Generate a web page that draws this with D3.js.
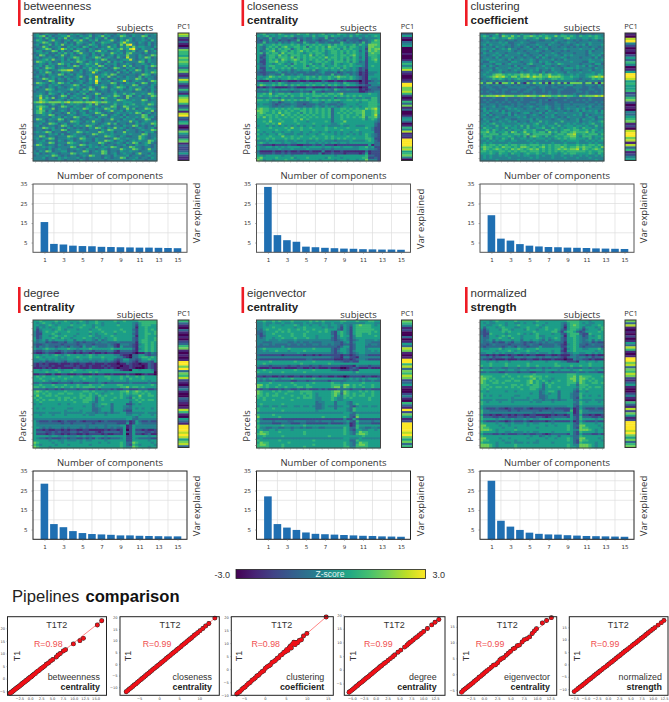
<!DOCTYPE html>
<html><head><meta charset="utf-8">
<script src="https://cdn.jsdelivr.net/npm/d3@7"></script>
<style>
html,body{margin:0;padding:0;background:#fff}
svg{display:block}
text{font-family:"Liberation Sans",Arial,sans-serif}
.os{font-family:"Open Sans",sans-serif}
</style></head><body><svg id="c" width="669" height="702"></svg>
<script>
const titles1=["betweenness","closeness","clustering","degree","eigenvector","normalized"];
const titles2=["centrality","centrality","coefficient","centrality","centrality","strength"];
const barCategories=[1,2,3,4,5,6,7,8,9,10,11,12,13,14,15];
const barBetweenness=[15.5,4.3,4.0,3.4,3.2,3.1,2.8,2.7,2.6,2.5,2.4,2.4,2.3,2.2,2.1];
const barCloseness=[33.5,8.8,6.2,5.4,2.9,2.6,2.3,2.1,1.9,1.8,1.6,1.5,1.4,1.4,1.3];
const barClustering=[19,7,6,4.2,3.4,3,2.7,2.6,2.4,2.3,2.2,2,1.9,1.8,1.7];
const barDegree=[28.5,7.8,6.2,4.2,3.2,2.7,2.5,2.3,2.0,2.0,1.8,1.7,1.6,1.5,1.5];
const barEigenvector=[22,7.8,6,4.8,3.5,2.8,2.6,2.4,2.2,2,1.8,1.7,1.5,1.4,1.3];
const barNormalized=[30,9.5,6.5,4.8,3.4,2.8,2.5,2.4,2.1,1.9,1.7,1.6,1.5,1.4,1.3];
const barTicksY=[5,15,25,35];
const barTicksX=[1,3,5,7,9,11,13,15];
const barGridY=[10,20,25,30];
const barGridX=[2,4,6,8,10,12,14];
const pc1Betweenness="8721310276657676536721386312631578862361893256102753267132235211";
const pc1Closeness="3510345000100146468210012997786201637130014530164812199997856740";
const pc1Clustering="108942010253640159985655623672010435671208997818361245";
const pc1Degree="63103101023671010199793768210241003210186105319998985783";
const pc1Eigenvector="76412003015387101996837687235100241063192751299998975736";
const pc1Normalized="7381010201538610199783768721351002410631827512999989757367";
const heatBetweenness=[
"4534544354 4354543453 4435443545 3454435445","4567353445 5744354463 4574534476 4354476344","3453645354 7354435643 5436344354 4534453544","4654357443 4536574354 6344574354 7534454364","3457643543 5343654435 3465543468 5443543534",
"4534463547 4453543465 4354345374 8943443534","3447534453 3545436534 5344745354 6474554435","4345763458 6453554354 3454564574 5894354453","4553447635 3436744354 6745344543 5463447345","3454534354 6453574435 3454475453 6744435344",
"4376343547 4354345435 4363453544 7443543476","4534454345 3457645345 7634543643 8443547634","3445647445 3534645443 5476344345 5843453544","4765453435 4454764354 5443635453 4444763544","3454354476 4534354654 7435445344 5434454354",
"4453645344 3547634545 4763435347 4634435476","4534765345 4453435464 5345347643 5453435343","3454534467 7884353465 7543435345 3547635445","4354763435 4534453448 5345443634 5354435476","3445354476 3453543454 3456476344 3443476534",
"4534345443 5434574354 8454743543 5443635443","3447645354 3544534364 7534345344 5447643543","3443476344 3453454354 9544534458 4345443476","4765435476 4534453454 8344476343 5453476345","3454354543 4457635443 5454345354 4476344354",
"4534354354 3454543464 3476345765 3544543453","4344765344 4574536476 3454354453 4547634354","3444354454 4344354534 4344345344 4434444353","4454365435 3534546344 7634446446 4564454764","4574534347 6345443543 5344547643 7634534476",
"4484647345 4354547643 5476445343 7444434354","4476543454 3534453534 5435444765 4454476344","6787677776 7867776778 7677545445 5544454454","4454346435 3454543463 7434446445 4564454764","4676534347 6435443554 4354476347 6445445443",
"4585447344 4354547643 5447645344 7463447654","4676354345 4354354354 5434574453 5445454473","4675453443 4745345344 7643434544 4547634534","3445476344 3454345543 4476345435 3444476344","3444435453 5447643454 3544354453 5445476453",
"4764354476 3434534344 5434474435 4453447633","3445344354 3476543547 4434443544 4745345445","4453476534 5344534445 4345746344 3435454476","4534344347 6435454764 3454434435 4476343435","3447645344 3543434354 7643547454 3434543453",
"3443435447 6344544344 4354764443 5443454476","4545763443 3544764544 4764453447 4443435453","3444354535 3345443447 6445454445 4544476344","4476344344 4765445344 3447654354 3344754344","4534576344 4543476443 5443347644 5444754345",
"3445344354 3453445443 5447653454 3454544764","3454476344 4765434344 4764344543 5476345743","4764344354 3454476454 4353443445 3435445434","3445454344 4476344354 5445476434 4764434434","3444353454 4344543544 3454344475 4476434744",
"4354763445 5343447634 5476344354 4544344543","4534345434 4476454434 4476345345 4435744354","3444547643 4344345476 4434435444 5344434544","4445344354 5444534344 4435434476 3445344354","4444344454 3444354344 4443444444 4454443444"];
const heatCloseness=[
"4564554654 4546556454 5645546554 5465445555","5456454556 5644455464 5564655454 6454454565","3433634533 4324343354 3363343433 4335344445","3243534233 2336243343 2334534324 3332334576","3363443534 3543364335 3343333643 4343634666",
"5645565655 5656456565 6556465655 5646547776","5435656467 5566563656 5647665564 6654537766","5436564656 6356566556 5656656465 6554527677","5345674566 4656756566 5645665656 5653537676","5636566475 6656545656 6545665646 5654526766",
"5325665756 4666565746 5645565665 6754526665","5235664666 5746565665 6575665656 4653525665","5325656476 5676465656 5646565646 5654525675","5225667565 4565665456 6565466656 4653425565","4325545654 5365565645 4655465455 6544425555",
"5335665556 4655563565 5645565565 6555425655","5225465565 6465566556 5565656465 4542325555","4325556454 5345455463 4554554645 4542315555","3223334533 4343334333 4533342343 3431214445","3323443363 3434533334 3433634345 3431214455",
"5545765655 6556556564 6556567665 6543215555","5456555455 6565456555 6556546555 6543215445","2111312122 1112112111 1321121121 1110212344","4544454654 3444544545 5454454365 4431214445","5765565656 4656556565 5646565456 5543322444",
"1212321111 2321112211 1121221121 1110114332","4454545455 4544545545 5454365445 4441212333","3333534333 3233433263 3233343333 3331123344","5565745665 6555656565 5656656745 5555556554","5655656556 4655655566 6565565656 5656555554",
"4444544354 4544446545 4444534445 4544544664","6656566575 6565656566 5656566556 6565665664","5555434234 4543333455 4355443455 5554556664","4544432343 3443323334 3443334345 5545556665","5555433434 4543343345 4354543455 4554556664",
"6766556565 6566565656 5656355665 6565576785","7766565656 5655665656 5656355656 5666755675","6765565756 6556465656 5656356565 6566755675","6656656575 6565656565 5656355656 5565755684","6575656556 5656565656 5656355656 5656746674",
"5555655655 5565756555 5555355655 5555645653","5565755565 5565554555 5565355575 5555555543","5556565855 5556555565 5555445655 5555555532","4554545454 5454545545 5454444544 5544455532","5555655556 5755655655 5565565556 5555565422",
"6555556555 6555655565 5565555655 5565555422","5545545545 5455455455 4554545455 4554555522","6454554654 4454454554 5655545454 5454565432","5555655575 5655655565 5565655556 5555565432","6556565556 5656555656 5565656565 5655566522",
"4445454445 4454454445 4544434444 5444456532","5654555545 5445554554 5454554554 5555555533","4322212222 3221122232 2422212222 2222225133","5445545454 5555454555 5455455455 5445564522","5444444544 4544445444 4344344444 4445554432",
"3111121121 2112111211 1411211211 1111131222","4222232232 3222232222 4122322212 2221251222","5545555545 5455555555 5555545555 5555563322","6755556555 5645556555 5546555455 5555662232","7645545556 5554555555 4555545554 5545574442"];
const heatClustering=[
"4434463544 4435443434 5444435444 4343443444","5653553765 7564667656 5655756656 5465565654","4545654557 6544654564 5764454675 5445545655","3443434434 4344434443 3443544344 3434434434","4454445453 3445443344 4445434454 4344454444",
"4535444544 3454434454 4354443443 4545354445","3444354434 3443453435 4434434434 3434434434","4544534546 4434445344 4534444544 4454445344","4435344445 4344344454 3443443434 4444353444","3544454434 4454434443 4445434444 3444354445",
"4434545354 4443543445 3544543545 4444345453","3444353444 5344344353 5434445434 4434443534","4454445435 3445445434 4445343544 4444454445","4335544443 5543445435 4543544445 4443355444","3444355345 4444356444 3554465444 4434443553",
"4535434444 3534443344 5443434434 4545354344","4444354445 4453544454 4545443555 4544443544","3445345443 4544345453 4435443444 3434453445","4454445344 4435445443 5344544354 4454445445","4544677656 5667675657 5675565445 4544555465",
"4456787865 7757786877 6687776556 5544567878","3444656545 4565456656 5456656555 4434446565","4434434434 3444433444 3434344444 4344344434","7377271775 7273174757 2717472727 7773772717","3443444344 3434443344 4434344455 3443444353",
"4344334334 4444434434 4334433433 4443343344","3334433443 3343344333 4333344333 3433344334","4343343433 4433443433 4343343333 3443433434","3334333433 3334333433 3343343333 4333433334","7677787877 7677787767 8776676766 5476777878",
"3333433343 3334333433 3343433343 3333343333","3434333343 3434333334 3423333433 3434343333","3343343434 3343334434 3333433334 3333433434","4434434333 4344343344 3433443443 4444344343","3444534454 4343445434 4543443444 4344453444",
"4534444345 4544344354 4543453454 4545344443","3545453534 4454444434 4354344343 4535454535","4453444545 3434553445 3544544544 4453444545","4535344435 3544434543 4445344444 5453534444","4443454344 4454534444 3545434354 4443454355",
"3544534454 3344445354 4443454434 4535445344","4453445445 4534435446 4544446444 4534454456","4545644544 4454544564 4544644454 5445456445","5454464555 4546464554 5455464555 4554544645","4655454464 5545464455 6446545455 6546554544",
"5564654545 4554655644 4654545665 6655646545","6675645564 7645755656 6475646656 7666756455","5656664665 5665674666 6664566577 8556566646","4666455556 5454636765 4645655667 7546664555","5546454654 6445545455 5454565656 6555464546",
"4454545544 5544454544 4544445455 5544545455","4545444445 4444445454 4445444544 4544454544","5656656565 6656656665 6565665655 5656566565","6766565766 5657765656 7565667656 6767665657","5765676565 7676567675 6565676767 7857656765",
"6656556656 5656656665 6565656566 6666565566","5556546554 6554565565 4565545656 6555565465","4545445454 4454554454 5445445445 4454544545","4545444445 4444445454 4445444544 4544454444","4444454444 4454444444 4444444444 4444444544"];
const heatDegree=[
"5565555655 6555565455 6555556556 5555666666","5456554545 5545455455 6545555455 5543566666","5544565455 5565556554 5545555655 5542566655","5354545565 5445565554 6555555555 5541556555","5245554565 4555455545 5655555565 5532556565",
"4235655655 5655555565 5565556556 5542556556","4225556545 5555455545 4556554555 5532556656","4235545655 6554555565 4455565555 5541556555","5235556546 5545556554 5454556555 5532556556","5345354555 4553554554 3534556555 5532566556",
"4344232233 2443232333 4344333433 3331566565","3223433332 3333234332 3333432144 4321456565","4243433234 3243325335 4333442153 3321556565","5445655455 5655455565 5555565555 5531456565","3223433323 4332324332 3333442133 3321556565",
"2112322112 3221212212 1121221122 2210113243","5545545654 5655554565 4555554421 1033553233","5654555545 4555655565 5565555442 1033566565","4455454544 4554454454 4454553235 5332355655","4434233443 2444344434 3443432134 4321344325",
"2121211121 1121122112 1112111011 3211011321","2122212111 2221212121 1121211101 1211101321","1112121121 1112211121 1112121011 1210001321","5545545654 5556554555 5455554421 1055455541","5555655565 5565555565 6555555555 5555555550",
"1122113112 2111221112 1221121111 2110012110","5656555565 5565565565 5556655565 6556565555","5565556555 6555556555 4555655565 4655565555","5556545545 5445545555 4555545555 4555555455","3343332233 3323332233 3432333333 3433333433",
"5565556555 6555655565 5565555665 5555555565","6656555656 5565656666 5655555566 7566565555","3333233232 3333233322 3233323223 3222333223","6765655555 6555556656 5554555566 7567656555","6656565566 5665565565 6545565565 6566565655",
"5755665655 5555566565 4656555565 5455755665","6565555565 6656565665 3565556565 4365655555","5656566565 6565556665 3565565555 5456565665","5565555555 5556556654 3555555555 5355655555","4545555545 5455555553 4566535555 2245455555",
"5555555555 5555554553 4545535554 4355555555","5454554555 5445555553 3455535554 3354545545","5555555555 4555545553 3455535553 2255555555","4444544445 4444445444 3443434455 3344445444","5545554555 4555554544 5554555555 4455455545",
"5555555555 5555555555 5555555555 5543555555","4444444444 4444444444 4444444444 5533444444","5322232212 3222321222 2123222222 3125322322","5433333332 3323333332 3333333222 5125433333","5444444444 4444444344 4443444455 1254444444",
"5543434443 4344434344 3443434335 1254444444","5221211221 2122112211 1112122125 0252212112","5333223232 2233232233 2123333325 2253332232","5222123221 2122112122 2212112225 0252212311","5555545544 5444545445 5554555555 2255555455",
"5433232223 3233223232 4323233345 2254333322","5555545544 5444545445 5554555555 2255555455","7655554554 5555545555 5455455565 3376555545","6545555455 5455555545 5555555565 3265455554","7655545555 5555555555 5555555565 4476555455"];
const heatEigenvector=[
"5565565655 5655555656 5655555665 5565556655","4454454454 4544454544 4544544544 4444455544","4454555545 5565455455 4554554354 3567666545","4455565555 5545565555 5454454254 2566666555","4356555655 6556565565 5565553254 2566666655",
"3345556565 6555556555 6565325654 2566666565","3245565555 5655565555 5555325654 2566556555","4235555655 5655565554 5555424655 2466555565","4345545565 5565556554 5555324554 2455555555","4445444544 4454444444 4444323454 2345544454",
"4433344444 3343433433 3444433245 2455544333","4344343333 4334343344 3443433233 2355543443","3333333353 3333333333 3333332355 2355533333","4565555555 6555555565 5555323554 2355545555","4454556555 4555565555 5555324554 2455544545",
"4444444444 4445444444 4444323454 2345544444","3222222212 2222212212 1222222122 1234432222","4444444444 4444444444 4444322144 2214444444","3222222222 2222223322 2222211122 1234432222","5555655555 5565555565 5555544322 3225555555",
"5565555555 5555655555 5556555555 5555555555","4333233333 2332333233 2333333222 2143332333","2111211121 1112211212 1112111001 2321112111","5565555555 5565555565 5555443222 3225555555","6555655565 5555565555 5555555555 5465555555",
"4444444444 4444444444 4444444444 4444444444","2212211212 1122121122 1221121101 2222122112","5454555455 5655555565 5555555544 5454545554","4343343333 3223332333 3332333334 4443433433","5555655555 5655555565 5555655455 5555655555",
"7756555655 5565556555 5555666577 5656555655","7656556556 5556656655 5555677476 5655655655","3233222323 3223223222 3232223333 2333233222","7655565655 6655666655 5555677476 5556565655","7656556556 5555656654 5555676376 5655655655",
"6656566555 5655565654 5555675466 5656655655","6565555565 5556566654 4555654465 6555556555","5565565555 5655555554 4555654455 5555556555","5555555555 5555555553 4455535554 3555555555","5655555565 5555555553 3455535554 3565555555",
"4544544544 5544544543 3454434455 3245445445","6555565555 5555555553 3455535554 3655555555","6555555565 5555555554 5555555554 3655555555","4444444444 4444444444 4444444455 4344444444","6555565555 5555555555 5555555555 3365555555",
"7555555655 5555555555 5655555565 3275555555","5322222222 2222222222 2222222242 2532222222","6444434444 3344443334 3444344445 3264444344","5333322233 3222332222 2223222234 1253333222","6555555565 5555565555 5555555555 1265555555",
"6443344334 4344343344 3344444465 3364433443","5544554555 5455555555 5555555565 3255445545","5766555655 5555565555 5555555565 4357665555","6776555555 5555565555 5555555565 4367765555","5565555565 5555555555 5556555555 5555655555",
"4544444444 4444444444 4444444455 4445444444","6555555655 5555555565 5555555555 3365555555","5766555555 6555555555 5555555565 4357665555","6776555565 5555555565 5555555565 4367765555","6666555565 5555565555 5555555566 4466665555"];
const heatNormalized=[
"5554565555 5655555565 5555555566 6655545555","5454455545 5445455455 5455554356 6654544555","5544556545 5565555565 4555554256 7655445565","5355545655 5445565554 5655554156 6653555456","4245554665 4555465545 5655653256 6542455546",
"3235555656 5555555655 5556642566 5323555565","3226555545 5565454565 5554553256 6632265555","4235545656 5554555564 4555554156 6542354565","4335556554 6554555565 4545653255 6543355565","4345354555 4553554554 3534553255 6543453545",
"4334232243 2443232343 4344333155 6543342322","3323433332 3333234332 3333432145 6533234333","3233333234 3243323335 3333442255 6532333332","5445556455 5565455565 5555553145 6554455564","5555545556 5455565545 5554552155 6555555455",
"4455454544 4554454454 4454553234 5544554545","2212121121 2211212211 1221121113 4322121211","4434233443 2444344434 3443432134 4344342334","3221211121 1121122112 1112111011 4332212111","5545545554 5555554555 5455554422 2155455455",
"5556555565 5555565555 5555655555 5555565555","6556555565 5565565565 5555665556 5565565555","3443444334 4434443344 3434443434 3334434443","6555545545 5445545555 4555545554 5565555455","3343332233 3323332233 3432333333 3433433322",
"5555555565 5555555655 5555555566 6555555555","7666555656 5565667666 5655555566 7576665556","7765655555 6555556756 5554555567 7577656555","7656565566 5665567565 6545565566 7576565655","7655665655 5555567565 4656555566 6476556656",
"6665555555 6656565665 3565555565 5366655555","6656566565 6565556665 3565565555 5466565665","6565555555 5556556654 3555555555 4365655555","5545555545 5455555553 4566535555 3255455555","6555555555 5555554553 4545535554 3365555555",
"6454554555 5445555553 3455535554 3364545545","6555555555 4555545553 3455535554 3265555555","5444544445 4444445444 3443434455 3354445444","6545554555 4555554544 5554555555 4365455545","6555555555 5555555555 5555555555 3365555555",
"5444444444 4444444444 4444444455 3254444444","5322232212 3222321222 2123222224 1253222322","6443333332 3323333332 3333333226 1264433333","6444444444 4444444344 4443444455 1264444444","5221211221 2122112211 1112122125 2252212112",
"6333223232 2233232233 2123333325 3263332232","6555545544 5444545445 5554555555 3265555455","5322232212 3222321222 2123222224 1253222322","6555545544 5444545445 5554555555 3265555455","7755554554 5555545555 5455455565 3377555545",
"7665555455 5455555545 5555555565 3276655554","7776545555 5655555555 5555555565 4477765455","6555545544 5444545445 5554555555 3265555455","5333223232 2233232233 2123333325 3253332232","6555555555 5555554553 4545535554 3365555555",
"7755554554 5555545555 5455455565 3377555545","7665555455 5455555545 5555555565 3276655554","6555545544 5444545445 5554555555 3265555455","7776545555 5655555555 5555555565 4477765455","7776545555 5655555555 5555555565 5477765455"];
const scatterX1=[-4.6,-4.4,-4.2,-4,-3.8,-3.6,-3.4,-3.2,-3,-2.8,-2.6,-2.4,-2.2,-2,-1.8,-1.6,-1.4,-1.2,-1,-.8,-.6,-.4,-.2,0,.2,.4,.6,.9,1.2,1.5,1.8,2.1,2.4,2.7,3,3.3,3.7,4.2,4.7,5.2,6,6.4,6.9,7.6,8.1,9.9,11.4,12.2,15.4,16.4];
const scatterY1=[-5.8,-5.5,-5.3,-5,-4.7,-4.5,-4.1,-3.9,-3.6,-3.4,-3.1,-2.9,-2.5,-2.3,-1.9,-1.7,-1.4,-1.2,-.8,-.6,-.4,0,.2,.6,.7,1,1.4,1.8,2.1,2.7,3,3.3,3.9,4.2,4.6,5,5.7,6.2,7,7.6,8.6,9.4,10,11,11.5,13.8,15.1,16,21.3,23];
const scatterX2=[-8.2,-7.8,-7.4,-7,-6.6,-6.2,-5.8,-5.4,-5,-4.6,-4.2,-3.8,-3.4,-3,-2.6,-2.2,-1.8,-1.4,-1,-.6,-.2,.2,.6,1,1.4,1.8,2.2,2.6,3,3.4,3.8,4.2,4.6,5,5.4,5.8,6.2,6.6,7,7.4,7.8,8.2,8.7,9.1,9.6,10.2,10.9,11.6,12.4,13.9];
const scatterY2=[-12,-11.4,-10.8,-10.3,-9.7,-9.1,-8.6,-8,-7.4,-6.8,-6.3,-5.7,-5.1,-4.5,-4,-3.4,-2.8,-2.2,-1.7,-1.1,-.6,0,.6,1.1,1.7,2.3,2.9,3.4,4,4.6,5.1,5.7,6.3,6.8,7.4,8,8.6,9.1,9.7,10.3,10.8,11.4,12.2,12.7,13.4,14.3,15.2,16.3,17.4,19.7];
const scatterX3=[-6.7,-6.3,-5.9,-5.5,-5.1,-4.7,-4.3,-3.9,-3.5,-3.1,-2.7,-2.3,-1.9,-1.5,-1.1,-.7,-.3,.1,.5,.9,1.3,1.7,2.1,2.5,2.9,3.3,3.7,4.1,4.5,4.9,5.2,5.5,5.8,6.1,6.3,6.6,6.9,7.2,7.5,7.8,8.2,8.7,9.2,10,14.6];
const scatterY3=[-9.5,-8.9,-8.5,-7.8,-7.2,-6.8,-6.1,-5.5,-5.1,-4.3,-3.9,-3.4,-2.6,-2.3,-1.6,-1,-.7,.3,.9,1.2,1.6,2.6,2.9,3.3,4.1,4.4,5.3,5.6,6.4,6.7,7.5,7.2,8.2,8.9,8.1,9.6,10.3,9.4,10.2,10.1,11,11.3,12.7,13.7,20];
const scatterX4=[-5.6,-5.3,-5,-4.7,-4.4,-4.1,-3.8,-3.5,-3.2,-2.9,-2.6,-2.3,-2,-1.7,-1.4,-1.1,-.8,-.5,-.2,.1,.4,.7,1,1.3,1.7,2.1,2.6,3.1,3.6,4,4.7,5.3,6.1,6.6,6.9,7.2,7.5,7.9,8.4,8.8,9.2,9.6,10.1,10.9,11.8,12.5,13.3];
const scatterY4=[-8.2,-7.8,-7.4,-7,-6.5,-6.1,-5.7,-5.2,-4.8,-4.4,-4,-3.5,-3.1,-2.7,-2.3,-1.8,-1.4,-1,-.5,-.1,.3,.8,1.2,1.6,2.2,2.7,3.4,4.1,4.8,5.4,6.4,7.2,8.3,9,9.5,10,10.3,10.9,11.6,12.1,12.7,13.3,14,15.1,16.4,17.4,18.4];
const scatterX5=[-4.2,-3.9,-3.6,-3.3,-3,-2.7,-2.4,-2.1,-1.8,-1.5,-1.2,-.9,-.6,-.3,0,.3,.6,1,1.4,1.8,2.2,2.6,3,3.3,3.7,4.2,4.6,5,5.5,5.8,6.3,6.7,7.2,7.6,8.1,8.6,9.1,9.5,9.9,11,11.8,12.7];
const scatterY5=[-5.7,-5.2,-4.8,-4.4,-4,-3.6,-3.2,-2.8,-2.3,-1.9,-1.5,-1,-.7,-.2,.2,.7,1.1,1.6,2.2,2.8,3,3.6,4.5,4.9,5.2,6,6.6,7.2,8,8.2,9,9.2,10.2,10.9,11.2,11.8,12.9,13.7,14.4,16.2,17,17.9];
const scatterX6=[-7.5,-7,-6.6,-6.2,-5.8,-5.4,-5,-4.6,-4.2,-3.8,-3.4,-3,-2.6,-2.2,-1.8,-1.4,-1,-.6,-.2,.2,.6,1,1.4,1.8,2.2,2.6,3,3.4,3.8,4.2,4.6,5,5.4,5.8,6.2,6.6,7,7.4,7.8,8.2,8.6,9,9.5,10,10.5,11.2,11.9,12.5];
const scatterY6=[-11,-10.3,-9.7,-9.1,-8.6,-8,-7.4,-6.8,-6.2,-5.7,-5.1,-4.5,-3.9,-3.4,-2.8,-2.2,-1.6,-1.1,-.5,.1,.7,1.2,1.8,2.4,3,3.5,4.1,4.7,5.3,5.8,6.4,7,7.6,8.2,8.7,9.3,9.9,10.5,11,11.6,12.2,12.8,13.5,14.2,14.9,15.9,16.9,17.8];
const rLabels=["R=0.98","R=0.99","R=0.98","R=0.99","R=0.99","R=0.99"];
const sxTicks=[[-2.5,0,2.5,5,7.5,10,12.5,15],[-5,0,5,10],[-5,0,5,10,15],[-5,-2.5,0,2.5,5,7.5,10,12.5],[-2.5,0,2.5,5,7.5,10,12.5],[-7.5,-5,-2.5,0,2.5,5,7.5,10,12.5]];
const syTicks=[[-5,0,5,10,15,20],[-10,-5,0,5,10,15,20],[-10,-5,0,5,10,15,20],[-5,0,5,10,15,20],[-5,0,5,10,15],[-10,-5,0,5,10,15]];

const bars=[barBetweenness,barCloseness,barClustering,barDegree,barEigenvector,barNormalized];
const heats=[heatBetweenness,heatCloseness,heatClustering,heatDegree,heatEigenvector,heatNormalized];
const pc1s=[pc1Betweenness,pc1Closeness,pc1Clustering,pc1Degree,pc1Eigenvector,pc1Normalized];
const sX=[scatterX1,scatterX2,scatterX3,scatterX4,scatterX5,scatterX6];
const sY=[scatterY1,scatterY2,scatterY3,scatterY4,scatterY5,scatterY6];
// layout only
const colX=[0,223.5,447], rowY=[0,287];
const varY=[213,219,213,219,219,219];
const sFrames=[[7.5,106.5,-5.2,17.5,-6.6,24.6],[120,219.3,-9.75,15,-13.5,20.3],[231.3,333.3,-8,16.3,-10,20.1],[344.3,445,-6.6,14.6,-9.3,19.4],[457.3,556.7,-5,13.7,-6.7,18.2],[569.3,668,-8.6,13.4,-12.5,19.3]];
const sText=[[48.3,56.7,16.7,100],[157,170,128.3,212],[265.7,281.7,239.3,324.3],[378.3,394.3,352.7,436.7],[490,507.3,466,550],[605,618.3,577.3,662]];

const svg=d3.select("#c");
const defs=svg.append("defs");
defs.append("filter").attr("id","soft").attr("x","-2%").attr("y","-2%").attr("width","104%").attr("height","104%")
  .append("feGaussianBlur").attr("stdDeviation",0.35);
const v=d=>d3.interpolateViridis(+d/9);

titles1.forEach((t,i)=>{
  const ox=colX[i%3], oy=rowY[Math.floor(i/3)];
  const g=svg.append("g").attr("transform",`translate(${ox},${oy})`);
  g.append("rect").attr("x",18).attr("y",0).attr("width",2.6).attr("height",26).attr("fill","#ee1c25");
  g.append("text").attr("x",23.5).attr("y",10).attr("font-size",11.5).attr("fill","#333").text(t);
  g.append("text").attr("x",23.5).attr("y",23.5).attr("font-size",11.5).attr("font-weight","bold").attr("fill","#222").text(titles2[i]);
  g.append("text").attr("class","os").attr("x",135).attr("y",31).attr("text-anchor","middle").attr("font-size",9.5).attr("fill","#333").text("subjects");
  g.append("text").attr("class","os").attr("x",184).attr("y",28.5).attr("text-anchor","middle").attr("font-size",7.5).attr("fill","#333").text("PC1");
  g.append("text").attr("class","os").attr("transform","translate(26,139) rotate(-90)").attr("text-anchor","middle").attr("font-size",9.5).attr("fill","#333").text("Parcels");
  g.append("text").attr("class","os").attr("x",110).attr("y",178.5).attr("text-anchor","middle").attr("font-size",9.5).attr("fill","#333").text("Number of components");
  g.append("text").attr("class","os").attr("transform",`translate(200,${varY[i]}) rotate(-90)`).attr("text-anchor","middle").attr("font-size",9.5).attr("fill","#333").text("Var explained");
  // heatmap
  const rows=heats[i].map(r=>r.replace(/ /g,""));
  const hx=d3.scaleBand().domain(d3.range(d3.max(rows,r=>r.length))).range([33,157]);
  const hy=d3.scaleBand().domain(d3.range(rows.length)).range([33,161]);
  const hg=g.append("g").attr("filter","url(#soft)");
  hg.append("rect").attr("x",33).attr("y",33).attr("width",124).attr("height",128).attr("fill",v(i==0||i==2?4:5));
  rows.forEach((r,ri)=>{
    hg.selectAll(null).data(r.split("")).join("rect")
      .attr("x",(d,k)=>hx(k)).attr("y",hy(ri))
      .attr("width",hx.bandwidth()+.3).attr("height",hy.bandwidth()+.3).attr("fill",v);
  });
  g.append("rect").attr("x",33).attr("y",33).attr("width",124).attr("height",128).attr("fill","none").attr("stroke","#444").attr("stroke-width",1);
  const hTickY=d3.scaleLinear().domain([0,20]).range([35,158]);
  const hTickX=d3.scaleLinear().domain([0,19]).range([35,155]);
  const axL=g.append("g").attr("transform","translate(33,0)").call(d3.axisLeft(hTickY).tickValues(d3.range(0,21)).tickSize(1.5).tickFormat(""));
  const axB=g.append("g").attr("transform","translate(0,161)").call(d3.axisBottom(hTickX).tickValues(d3.range(0,20)).tickSize(1.5).tickFormat(""));
  [axL,axB].forEach(a=>{a.select(".domain").remove();a.selectAll("line").attr("stroke","#777").attr("stroke-width",.5);});
  // strip
  const pc=pc1s[i].split("");
  const py=d3.scaleBand().domain(d3.range(pc.length)).range([33,160.5]);
  g.append("g").attr("filter","url(#soft)").selectAll("rect").data(pc).join("rect")
    .attr("x",178).attr("width",11).attr("y",(d,k)=>py(k)).attr("height",py.bandwidth()+.3).attr("fill",v);
  g.append("rect").attr("x",178).attr("y",33).attr("width",11).attr("height",127.5).attr("fill","none").attr("stroke","#333").attr("stroke-width",1);
  // bars
  const bx=d3.scaleLinear().domain([-0.2,16]).range([33,187]);
  const by=d3.scaleLinear().domain([0,35]).range([252.3,184]);
  g.append("g").selectAll("line").data(barGridY).join("line").attr("x1",33).attr("x2",187).attr("y1",by).attr("y2",by).attr("stroke","#ddd").attr("stroke-width",.7);
  g.append("g").selectAll("line").data(barGridX).join("line").attr("y1",184).attr("y2",252.3).attr("x1",bx).attr("x2",bx).attr("stroke","#ddd").attr("stroke-width",.7);
  g.append("g").selectAll("rect").data(barCategories).join("rect")
    .attr("x",d=>bx(d)-3.8).attr("width",7.6).attr("y",(d,k)=>by(bars[i][k])).attr("height",(d,k)=>by(0)-by(bars[i][k])).attr("fill","#1f6fb2");
  g.append("rect").attr("x",33).attr("y",184).attr("width",154).attr("height",68.3).attr("fill","none").attr("stroke",i<3?"#555":"#222").attr("stroke-width",1);
  const bl=g.append("g").attr("transform","translate(33,0)").call(d3.axisLeft(by).tickValues(barTicksY).tickSize(1.5).tickPadding(4));
  const bb=g.append("g").attr("transform","translate(0,252.3)").call(d3.axisBottom(bx).tickValues(barTicksX).tickSize(1.5).tickPadding(4));
  [bl,bb].forEach(a=>{a.select(".domain").remove();a.selectAll("line").attr("stroke","#666").attr("stroke-width",.5);a.selectAll("text").attr("font-size",5.5).attr("fill","#333").attr("style","font-family:'DejaVu Sans'");});
});

// colour bar
const cbScale=d3.scaleLinear().domain([-3,3]).range([236,425.5]);
const grad=defs.append("linearGradient").attr("id","vir");
d3.range(0,1.001,0.1).forEach(t=>grad.append("stop").attr("offset",t).attr("stop-color",d3.interpolateViridis(t)));
svg.append("rect").attr("x",cbScale(-3)).attr("y",569.5).attr("width",cbScale(3)-cbScale(-3)).attr("height",9).attr("fill","url(#vir)").attr("stroke","#222").attr("stroke-width",.8);
svg.append("text").attr("x",cbScale(-3)-6).attr("y",577.5).attr("text-anchor","end").attr("font-size",9).attr("fill","#333").text("-3.0");
svg.append("text").attr("x",cbScale(3)+7).attr("y",577.5).attr("font-size",9).attr("fill","#333").text("3.0");
svg.append("text").attr("x",330).attr("y",577).attr("text-anchor","middle").attr("font-size",8.5).attr("fill","#e8f4f0").text("Z-score");

// heading
svg.append("text").attr("x",12).attr("y",601.5).attr("font-size",16.6).attr("fill","#222").text("Pipelines");
svg.append("text").attr("x",85.5).attr("y",601.5).attr("font-size",16.6).attr("font-weight","bold").attr("fill","#111").text("comparison");

// scatter panels
sFrames.forEach((f,i)=>{
  const top=616.7,bot=695.3;
  const x=d3.scaleLinear().domain([f[2],f[3]]).range([f[0],f[1]]);
  const y=d3.scaleLinear().domain([f[4],f[5]]).range([bot,top]);
  const g=svg.append("g");
  const n=sX[i].length;
  g.append("line").attr("x1",x(sX[i][0])).attr("y1",y(sY[i][0])).attr("x2",x(sX[i][n-1])).attr("y2",y(sY[i][n-1])).attr("stroke","#f33").attr("stroke-width",.6);
  g.append("g").selectAll("circle").data(sX[i]).join("circle").attr("cx",d=>x(d)).attr("cy",(d,k)=>y(sY[i][k])).attr("r",2.45).attr("fill","#222");
  g.append("g").selectAll("circle").data(sX[i]).join("circle").attr("cx",d=>x(d)).attr("cy",(d,k)=>y(sY[i][k])).attr("r",2).attr("fill","#ee1018");
  g.append("rect").attr("x",f[0]).attr("y",top).attr("width",f[1]-f[0]).attr("height",bot-top).attr("fill","none").attr("stroke","#222").attr("stroke-width",1);
  const xa=g.append("g").attr("transform",`translate(0,${bot})`).call(d3.axisBottom(x).tickValues(sxTicks[i]).tickSize(1).tickPadding(1.5).tickFormat(sxTicks[i].some(t=>t%1)?d3.format(".1f"):d3.format("d")));
  const ya=g.append("g").attr("transform",`translate(${f[0]},0)`).call(d3.axisLeft(y).tickValues(syTicks[i]).tickSize(1).tickPadding(1.5).tickFormat(d3.format("d")));
  [xa,ya].forEach(a=>{a.select(".domain").remove();a.selectAll("line").attr("stroke","#555").attr("stroke-width",.4);a.selectAll("text").attr("font-size",3.6).attr("fill","#444").attr("style","font-family:'DejaVu Sans'");});
  const t=sText[i];
  g.append("text").attr("x",t[1]).attr("y",628).attr("text-anchor","middle").attr("font-size",9).attr("fill","#333").text("T1T2");
  g.append("text").attr("x",t[0]).attr("y",647).attr("text-anchor","middle").attr("font-size",8.8).attr("fill","#f05050").text(rLabels[i]);
  g.append("text").attr("transform",`translate(${t[2]+3},656) rotate(-90)`).attr("text-anchor","middle").attr("font-size",9).attr("fill","#333").text("T1");
  g.append("text").attr("x",t[3]).attr("y",679.5).attr("text-anchor","end").attr("font-size",8.9).attr("fill","#333").text(titles1[i]);
  g.append("text").attr("x",t[3]).attr("y",690).attr("text-anchor","end").attr("font-size",8.9).attr("font-weight","bold").attr("fill","#222").text(titles2[i]);
});
</script></body></html>
